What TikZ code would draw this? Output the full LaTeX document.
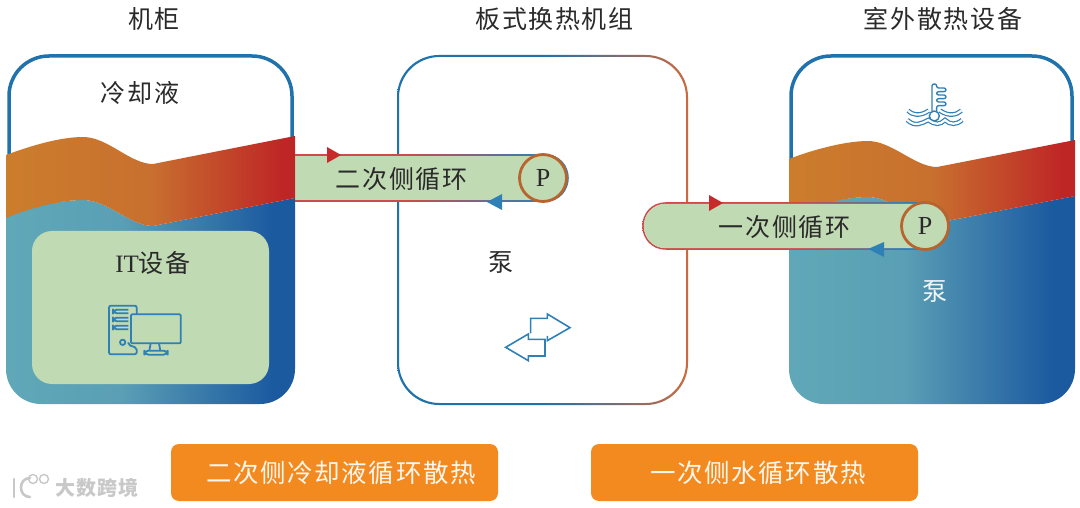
\documentclass[tikz,border=0pt]{standalone}
\usepackage{fontspec}
\setmainfont[LetterSpace=6.5]{Noto Sans CJK SC}
\newfontfamily\latf{Liberation Serif}
\definecolor{txt}{HTML}{2A2A2A}
\definecolor{lineblue}{HTML}{1F72AB}
\definecolor{boxgreen}{HTML}{C0DAB3}
\definecolor{tealc}{HTML}{60A8B8}
\definecolor{tealm}{HTML}{5A9FB5}
\definecolor{deepb}{HTML}{1C5AA0}
\definecolor{orangec}{HTML}{CC7D2C}
\definecolor{orangem}{HTML}{C8702F}
\definecolor{redc}{HTML}{BE2525}
\definecolor{lineorange}{HTML}{CC6A40}
\definecolor{brownc}{HTML}{B8642E}
\definecolor{btn}{HTML}{F28A1F}
\definecolor{arrowred}{HTML}{C62A2A}
\definecolor{loopred}{HTML}{CF4A4A}
\definecolor{iconblue}{HTML}{2F80B5}
\definecolor{wm}{HTML}{C8C8C8}
\pgfdeclarehorizontalshading{coolshade}{100bp}{color(0bp)=(tealc);color(25bp)=(tealc);color(45bp)=(tealm);color(71bp)=(deepb);color(100bp)=(deepb)}
\pgfdeclarehorizontalshading{warmshade}{100bp}{color(0bp)=(orangec);color(25bp)=(orangec);color(50bp)=(orangem);color(73bp)=(redc);color(100bp)=(redc)}
\pgfdeclarehorizontalshading{ringshade}{100bp}{color(0bp)=(lineblue);color(25bp)=(lineblue);color(50bp)=(lineblue);color(75bp)=(lineorange);color(100bp)=(lineorange)}
\pgfdeclarehorizontalshading{loopshade}{100bp}{color(0bp)=(loopred);color(25bp)=(loopred);color(45bp)=(loopred);color(70bp)=(iconblue);color(100bp)=(iconblue)}
\pgfdeclarehorizontalshading{loopshadeb}{100bp}{color(0bp)=(loopred);color(25bp)=(loopred);color(50bp)=(loopred);color(68bp)=(iconblue);color(100bp)=(iconblue)}
\tikzset{
 label24/.style={inner sep=0pt,text=txt,font=\fontsize{25}{29}\selectfont},
 pumpc/.style={circle,draw=brownc,line width=2.8pt,fill=boxgreen,minimum size=47pt,inner sep=0pt,text=txt,font=\latf\fontsize{26}{30}\selectfont},
 cabline/.style={draw=lineblue,line width=3.5pt,rounded corners=40pt},
 icon/.style={draw=iconblue,line width=1.8pt,line join=round},
 wave/.style={draw=iconblue,line width=1.2pt,double=white,double distance=2.2pt},
 btnbox/.style={fill=btn,draw=none,rounded corners=8pt,inner sep=0pt,minimum height=57pt,minimum width=327pt},
 btntext/.style={inner sep=0pt,text=white!92!btn,font=\fontsize{25.5}{29}\selectfont},
 wmtext/.style={inner sep=0pt,text=wm,font=\fontsize{20}{24}\selectfont\bfseries},
}
\begin{document}
\begin{tikzpicture}[x=1pt,y=-1pt]
\useasboundingbox (0,0) rectangle (1080,508);
% middle box
\path[shading=ringshade,even odd rule]
  [rounded corners=42pt] (397,55) rectangle (688,405)
  [rounded corners=40.5pt] (399,57) rectangle (686,403);
% left cabinet
\draw[cabline] (9,170) -- (9,56) -- (292,56) -- (292,150);
\path[shading=coolshade,rounded corners=0pt]
  (6,218) .. controls (30,208) and (60,200) .. (83,200) .. controls (108,200) and (130,226) .. (153,226) -- (295,198)
  [rounded corners=35pt] -- (295,404) -- (6,404) -- (6,218) -- cycle;
\path[shading=warmshade]
  (6,155) .. controls (30,146) and (60,137) .. (83,137) .. controls (108,137) and (130,164) .. (153,164) -- (295,136)
  -- (295,198) -- (153,226) .. controls (130,226) and (108,200) .. (83,200) .. controls (60,200) and (30,208) .. (6,218) -- cycle;
\node[fill=boxgreen,rounded corners=20pt,minimum width=237pt,minimum height=153pt,inner sep=0pt] (itbox) at (150.5,307.5) {};
% right cabinet
\draw[cabline] (791,170) -- (791,56) -- (1072,56) -- (1072,150);
\path[shading=coolshade]
  (789,215) .. controls (812,206) and (845,197) .. (868,197) .. controls (892,197) and (915,223) .. (937,223) -- (1075,196)
  [rounded corners=35pt] -- (1075,404) -- (789,404) -- (789,215) -- cycle;
\path[shading=warmshade]
  (789,159) .. controls (812,150) and (845,141) .. (868,141) .. controls (892,141) and (915,167) .. (937,167) -- (1075,140)
  -- (1075,196) -- (937,223) .. controls (915,223) and (892,197) .. (868,197) .. controls (845,197) and (812,206) .. (789,215) -- cycle;
% secondary loop
\fill[boxgreen] (295,155) -- (545,155) arc[start angle=-90,end angle=-270,radius=-23pt] -- (295,201) -- cycle;
\path[shading=loopshade,even odd rule]
  (295,154.2) -- (545,154.2) .. controls (560,154.2) and (568.8,166) .. (568.8,178) .. controls (568.8,190) and (560,201.8) .. (545,201.8) -- (295,201.8) -- cycle
  (295,155.8) -- (545,155.8) .. controls (559,155.8) and (567.2,167) .. (567.2,178) .. controls (567.2,189) and (559,200.2) .. (545,200.2) -- (295,200.2) -- cycle;
\fill[arrowred] (327,147) -- (341,155) -- (327,163) -- cycle;
\fill[iconblue] (487,202) -- (502,194) -- (502,210) -- cycle;
\node[pumpc] (pumpa) at (543,178) {P};
\node[label24] (loopa) at (401.5,179) {二次侧循环};
% primary loop
\path[shading=loopshadeb,even odd rule]
  (666,202.2) -- (925,202.2) .. controls (941,202.2) and (949.8,214) .. (949.8,226) .. controls (949.8,238) and (941,249.8) .. (925,249.8) -- (666,249.8) .. controls (651,249.8) and (642.2,238) .. (642.2,226) .. controls (642.2,214) and (651,202.2) .. (666,202.2) -- cycle
  (666,203.8) -- (925,203.8) .. controls (940,203.8) and (948.2,215) .. (948.2,226) .. controls (948.2,237) and (940,248.2) .. (925,248.2) -- (666,248.2) .. controls (652,248.2) and (643.8,237) .. (643.8,226) .. controls (643.8,215) and (652,203.8) .. (666,203.8) -- cycle;
\fill[boxgreen] (666,203.8) -- (925,203.8) .. controls (940,203.8) and (948.2,215) .. (948.2,226) .. controls (948.2,237) and (940,248.2) .. (925,248.2) -- (666,248.2) .. controls (652,248.2) and (643.8,237) .. (643.8,226) .. controls (643.8,215) and (652,203.8) .. (666,203.8) -- cycle;
\fill[arrowred] (709,195) -- (723,203) -- (709,211) -- cycle;
\fill[iconblue] (868,249) -- (884,242) -- (884,257) -- cycle;
\node[pumpc] (pumpb) at (925,226) {P};
\node[label24] (loopb) at (784.5,227) {一次侧循环};
% titles
\node[label24] (ta) at (154,19) {机柜};
\node[label24] (tb) at (554.5,19) {板式换热机组};
\node[label24] (tc) at (943,19) {室外散热设备};
\node[label24] (coolant) at (140,93) {冷却液};
\node[label24] (itlabel) at (153,263) {{\latf IT}设备};
\node[label24] (pumpl) at (501,263) {泵};
\node[label24,text=white!92!tealm] (pumpr) at (935,292) {泵};
% computer icon
\begin{scope}[shift={(95,295)},x=.3333pt,y=-.3333pt]
 \draw[icon,rounded corners=2pt] (125,58) -- (125,32) -- (42,32) -- (42,178) -- (125,178) -- (125,158) -- (100,150) -- (100,145);
 \draw[icon,rounded corners=1pt] (108,58) rectangle (257,145);
 \draw[icon,rounded corners=4pt] (100,44) -- (54,44) -- (54,55) -- (100,55);
 \draw[icon,rounded corners=4pt] (100,68) -- (54,68) -- (54,79) -- (100,79);
 \draw[icon,rounded corners=4pt] (100,92) -- (54,92) -- (54,103) -- (100,103);
 \draw[icon] (83,142) circle[radius=8];
 \draw[icon] (167,145) -- (163,167);
 \draw[icon] (192,145) -- (196,167);
 \draw[icon,rounded corners=4pt] (148,167) rectangle (218,179);
\end{scope}
% thermometer icon
\begin{scope}[shift={(890,70)},x=.3333pt,y=-.3333pt]
 \draw[icon,line width=1.4pt,fill=white,rounded corners=2pt] (126,125) -- (126,42) -- (140,42) -- (140,54) -- (168,54) -- (168,65) -- (140,65) -- (140,75) -- (168,75) -- (168,86) -- (140,86) -- (140,96) -- (168,96) -- (168,107) -- (140,107) -- (140,125);
 \draw[icon,line width=1.4pt,fill=white] (133,138) circle[radius=15];
 \draw[wave] (54,122) .. controls (66,135) and (90,140) .. (116,122);
 \draw[wave] (150,122) .. controls (176,140) and (200,135) .. (214,122);
 \draw[wave] (52,150) .. controls (75,172) and (95,160) .. (115,150) .. controls (135,165) and (150,165) .. (165,150) .. controls (180,165) and (200,165) .. (216,150);
\end{scope}
% exchange arrows
\begin{scope}[shift={(490,300)},x=.3333pt,y=-.3333pt]
 \draw[icon,line width=1.6pt,line join=miter] (122,100) -- (122,55) -- (172,55) -- (172,42) -- (240,83) -- (172,122) -- (172,108);
 \draw[icon,line width=1.6pt,line join=miter] (165,118) -- (115,118) -- (115,102) -- (47,142) -- (115,182) -- (115,168) -- (165,168) -- cycle;
\end{scope}
% buttons
\node[btnbox] (btna) at (334.5,472.5) {};
\node[btntext] (btnatext) at (341,472.5) {二次侧冷却液循环散热};
\node[btnbox] (btnb) at (754.5,472.5) {};
\node[btntext] (btnbtext) at (758,472.5) {一次侧水循环散热};
% watermark
\node[wmtext] (wmk) at (97,488) {大数跨境};
\draw[wm,line width=2.6pt,line cap=round] (14,479) -- (14,497);
\draw[wm,line width=2.6pt,line cap=round] (30,478) .. controls (18,478) and (18,497) .. (30,497);
\draw[wm,line width=1.4pt] (33,479) circle[radius=4.5];
\draw[wm,line width=1.4pt] (44,479) circle[radius=4.5];
\end{tikzpicture}
\end{document}
